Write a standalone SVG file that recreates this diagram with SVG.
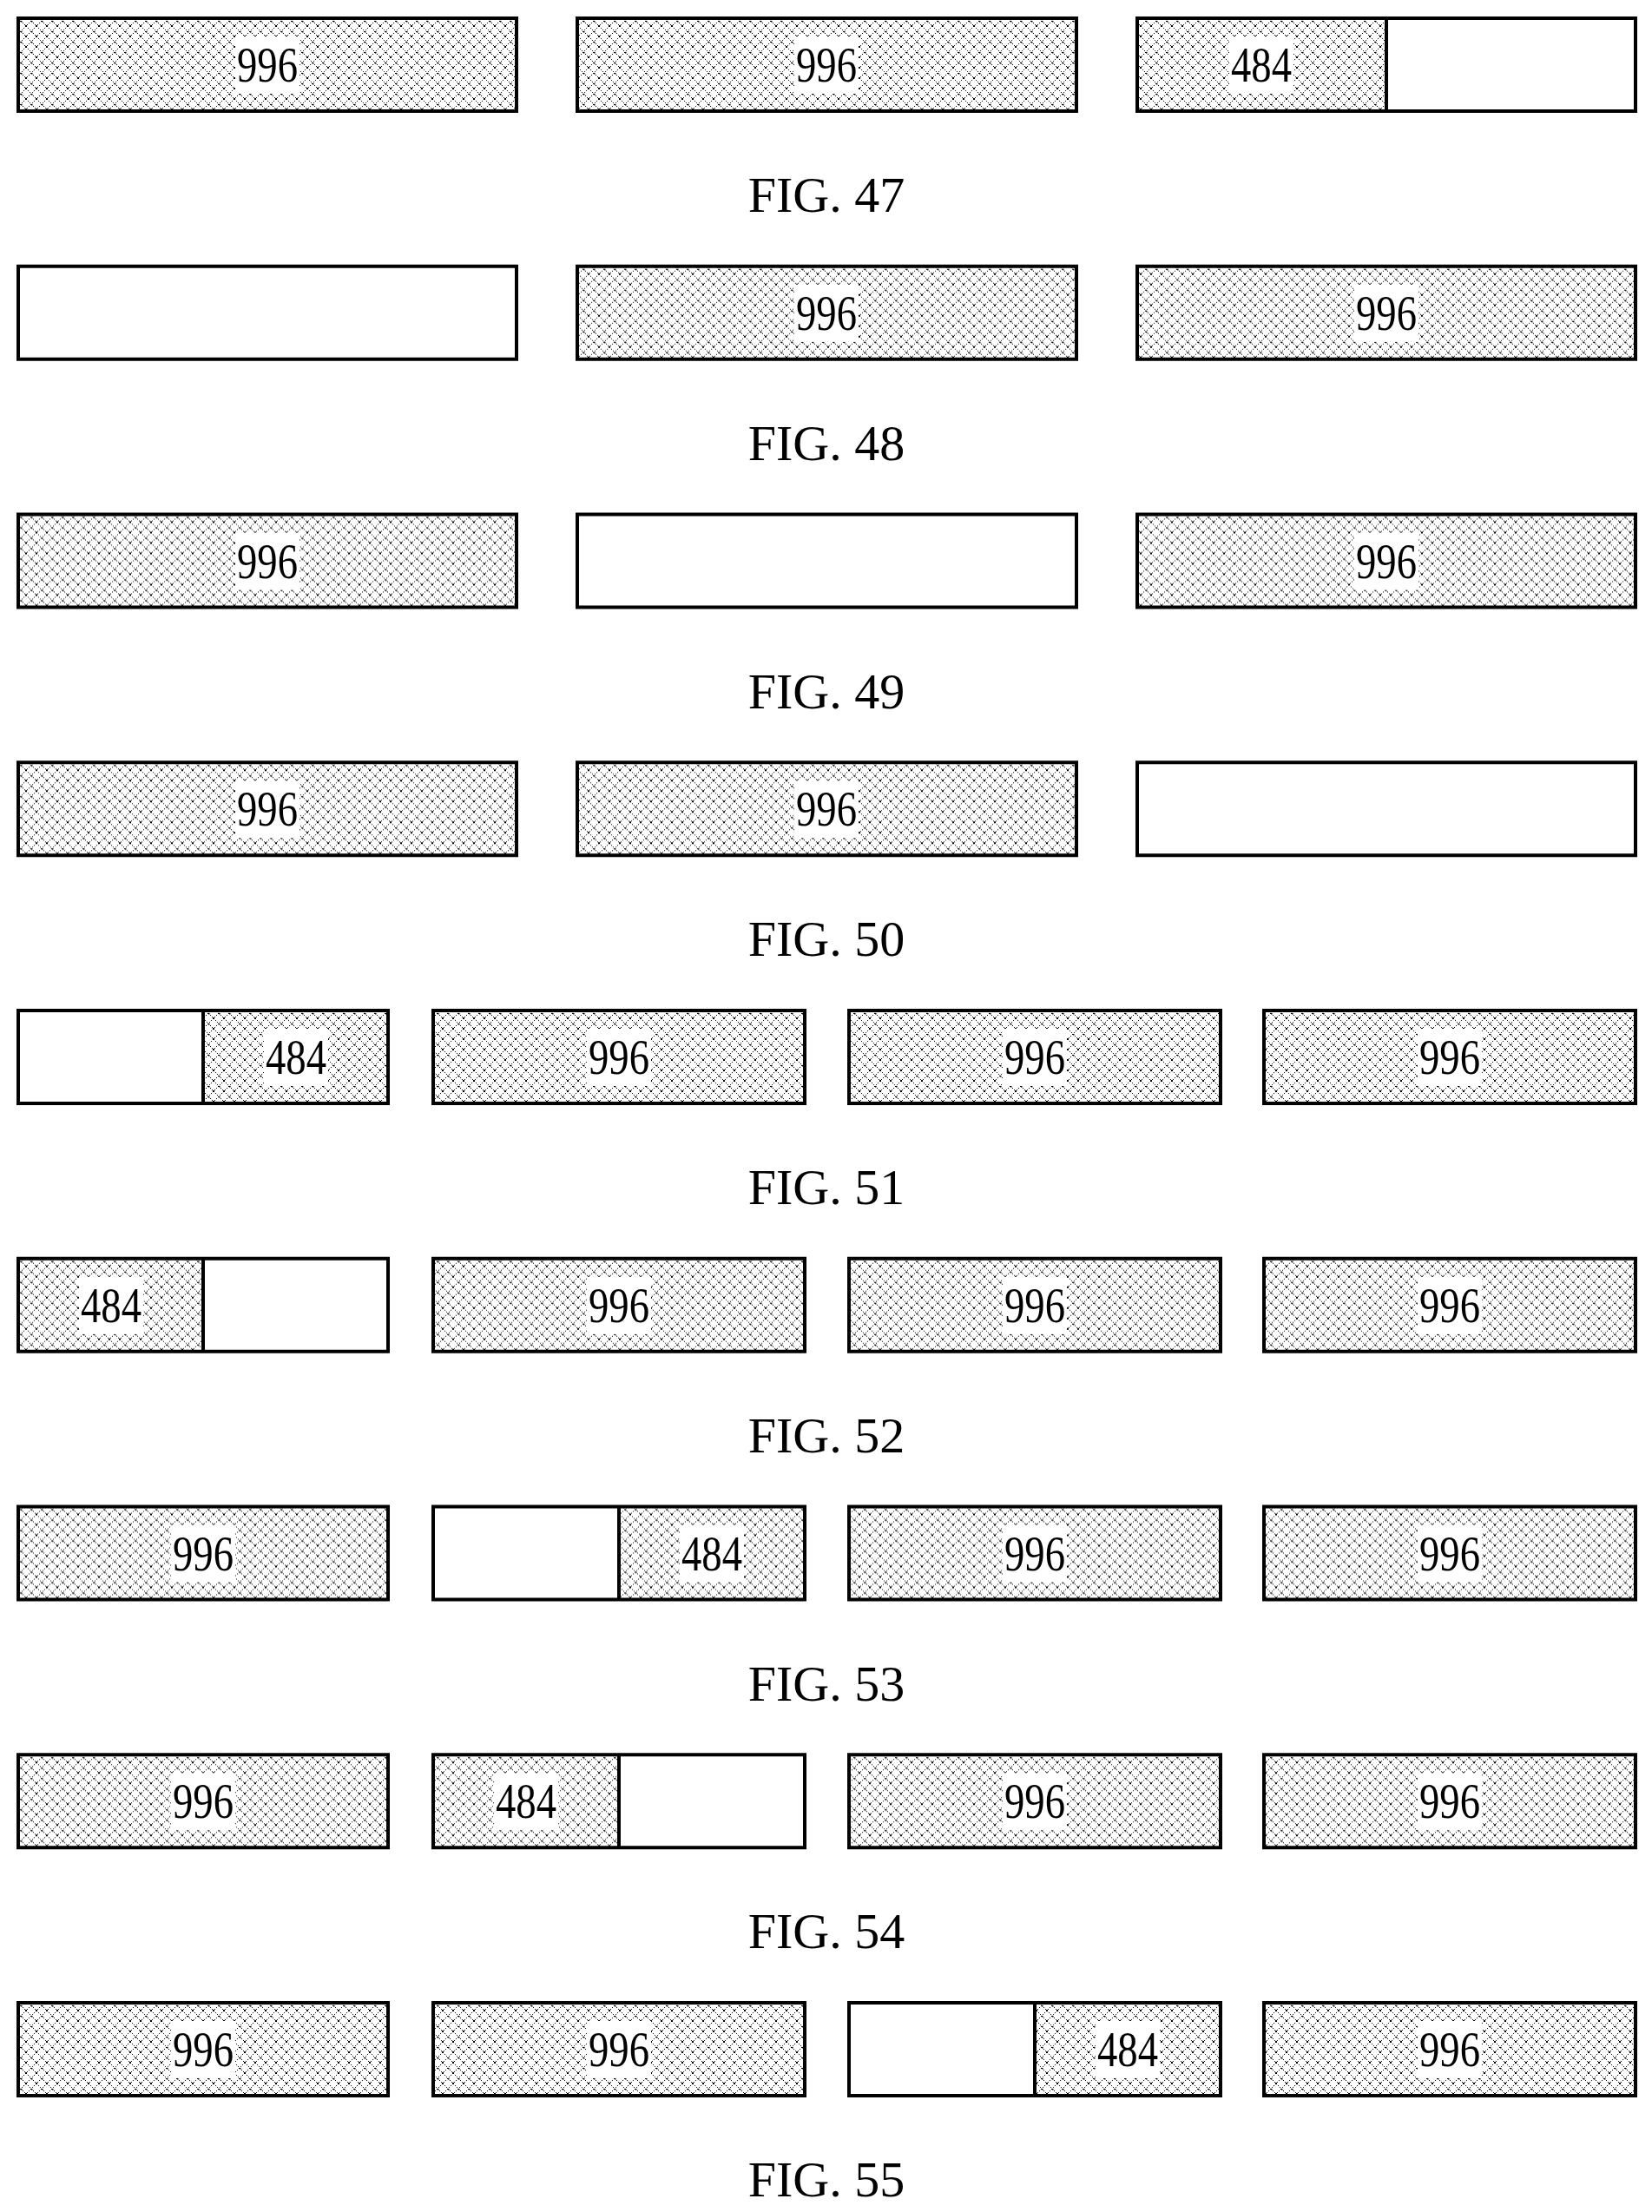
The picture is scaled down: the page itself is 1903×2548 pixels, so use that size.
<svg xmlns="http://www.w3.org/2000/svg" width="1903" height="2548" viewBox="0 0 1903 2548">
<style>
.b{stroke:#000;stroke-width:4;fill:none}
.h{fill:url(#hatch)}
.w{fill:#fff}
.t{font-family:"Liberation Serif",serif;font-size:56px;text-anchor:middle}
.f{font-family:"Liberation Serif",serif;font-size:58px;text-anchor:middle}
</style>
<defs>
<pattern id="hatch" width="12" height="12" patternUnits="userSpaceOnUse">
<rect width="12" height="12" fill="#fff"/>
<path d="M0 0L12 12M12 0L0 12" stroke="#000" stroke-width="1" stroke-dasharray="1.4 1.4"/>
<rect x="5" y="5" width="2" height="2" fill="#000"/>
<rect x="0" y="0" width="1.5" height="1.5" fill="#000"/>
</pattern>
<g id="L996"><rect class="w" x="-37" y="-33" width="74" height="66"/><text class="t" x="0" y="19" textLength="70" lengthAdjust="spacingAndGlyphs">996</text></g>
<g id="L484"><rect class="w" x="-37" y="-33" width="74" height="66"/><text class="t" x="0" y="19" textLength="70" lengthAdjust="spacingAndGlyphs">484</text></g>
</defs>
<rect width="1903" height="2548" fill="#fff"/>

<g id="fig47">
<g id="f47a"><rect class="h" x="21" y="21" width="574" height="107"/><rect class="b" x="21" y="21" width="574" height="107"/><use href="#L996" x="308" y="75"/></g>
<g id="f47b"><rect class="h" x="665" y="21" width="575" height="107"/><rect class="b" x="665" y="21" width="575" height="107"/><use href="#L996" x="952" y="75"/></g>
<g id="f47c"><rect class="h" x="1310" y="21" width="287" height="107"/><rect class="b" x="1310" y="21" width="574" height="107"/><line class="b" x1="1597" y1="21" x2="1597" y2="128"/><use href="#L484" x="1453" y="75"/></g>
<text class="f" x="952" y="244">FIG. 47</text>
</g>

<g id="fig48" transform="translate(0,285.75)">
<g id="f48a"><rect class="b" x="21" y="21" width="574" height="107"/></g>
<g id="f48b"><rect class="h" x="665" y="21" width="575" height="107"/><rect class="b" x="665" y="21" width="575" height="107"/><use href="#L996" x="952" y="75"/></g>
<g id="f48c"><rect class="h" x="1310" y="21" width="574" height="107"/><rect class="b" x="1310" y="21" width="574" height="107"/><use href="#L996" x="1597" y="75"/></g>
<text class="f" x="952" y="244">FIG. 48</text>
</g>

<g id="fig49" transform="translate(0,571.5)">
<g id="f49a"><rect class="h" x="21" y="21" width="574" height="107"/><rect class="b" x="21" y="21" width="574" height="107"/><use href="#L996" x="308" y="75"/></g>
<g id="f49b"><rect class="b" x="665" y="21" width="575" height="107"/></g>
<g id="f49c"><rect class="h" x="1310" y="21" width="574" height="107"/><rect class="b" x="1310" y="21" width="574" height="107"/><use href="#L996" x="1597" y="75"/></g>
<text class="f" x="952" y="244">FIG. 49</text>
</g>

<g id="fig50" transform="translate(0,857.25)">
<g id="f50a"><rect class="h" x="21" y="21" width="574" height="107"/><rect class="b" x="21" y="21" width="574" height="107"/><use href="#L996" x="308" y="75"/></g>
<g id="f50b"><rect class="h" x="665" y="21" width="575" height="107"/><rect class="b" x="665" y="21" width="575" height="107"/><use href="#L996" x="952" y="75"/></g>
<g id="f50c"><rect class="b" x="1310" y="21" width="574" height="107"/></g>
<text class="f" x="952" y="244">FIG. 50</text>
</g>

<g id="fig51" transform="translate(0,1143)">
<g id="f51a"><rect class="h" x="234" y="21" width="213" height="107"/><rect class="b" x="21" y="21" width="426" height="107"/><line class="b" x1="234" y1="21" x2="234" y2="128"/><use href="#L484" x="341" y="75"/></g>
<g id="f51b"><rect class="h" x="499" y="21" width="428" height="107"/><rect class="b" x="499" y="21" width="428" height="107"/><use href="#L996" x="713" y="75"/></g>
<g id="f51c"><rect class="h" x="978" y="21" width="428" height="107"/><rect class="b" x="978" y="21" width="428" height="107"/><use href="#L996" x="1192" y="75"/></g>
<g id="f51d"><rect class="h" x="1456" y="21" width="428" height="107"/><rect class="b" x="1456" y="21" width="428" height="107"/><use href="#L996" x="1670" y="75"/></g>
<text class="f" x="952" y="244">FIG. 51</text>
</g>

<g id="fig52" transform="translate(0,1428.75)">
<g id="f52a"><rect class="h" x="21" y="21" width="213" height="107"/><rect class="b" x="21" y="21" width="426" height="107"/><line class="b" x1="234" y1="21" x2="234" y2="128"/><use href="#L484" x="128" y="75"/></g>
<g id="f52b"><rect class="h" x="499" y="21" width="428" height="107"/><rect class="b" x="499" y="21" width="428" height="107"/><use href="#L996" x="713" y="75"/></g>
<g id="f52c"><rect class="h" x="978" y="21" width="428" height="107"/><rect class="b" x="978" y="21" width="428" height="107"/><use href="#L996" x="1192" y="75"/></g>
<g id="f52d"><rect class="h" x="1456" y="21" width="428" height="107"/><rect class="b" x="1456" y="21" width="428" height="107"/><use href="#L996" x="1670" y="75"/></g>
<text class="f" x="952" y="244">FIG. 52</text>
</g>

<g id="fig53" transform="translate(0,1714.5)">
<g id="f53a"><rect class="h" x="21" y="21" width="426" height="107"/><rect class="b" x="21" y="21" width="426" height="107"/><use href="#L996" x="234" y="75"/></g>
<g id="f53b"><rect class="h" x="713" y="21" width="214" height="107"/><rect class="b" x="499" y="21" width="428" height="107"/><line class="b" x1="713" y1="21" x2="713" y2="128"/><use href="#L484" x="820" y="75"/></g>
<g id="f53c"><rect class="h" x="978" y="21" width="428" height="107"/><rect class="b" x="978" y="21" width="428" height="107"/><use href="#L996" x="1192" y="75"/></g>
<g id="f53d"><rect class="h" x="1456" y="21" width="428" height="107"/><rect class="b" x="1456" y="21" width="428" height="107"/><use href="#L996" x="1670" y="75"/></g>
<text class="f" x="952" y="244">FIG. 53</text>
</g>

<g id="fig54" transform="translate(0,2000.25)">
<g id="f54a"><rect class="h" x="21" y="21" width="426" height="107"/><rect class="b" x="21" y="21" width="426" height="107"/><use href="#L996" x="234" y="75"/></g>
<g id="f54b"><rect class="h" x="499" y="21" width="214" height="107"/><rect class="b" x="499" y="21" width="428" height="107"/><line class="b" x1="713" y1="21" x2="713" y2="128"/><use href="#L484" x="606" y="75"/></g>
<g id="f54c"><rect class="h" x="978" y="21" width="428" height="107"/><rect class="b" x="978" y="21" width="428" height="107"/><use href="#L996" x="1192" y="75"/></g>
<g id="f54d"><rect class="h" x="1456" y="21" width="428" height="107"/><rect class="b" x="1456" y="21" width="428" height="107"/><use href="#L996" x="1670" y="75"/></g>
<text class="f" x="952" y="244">FIG. 54</text>
</g>

<g id="fig55" transform="translate(0,2286)">
<g id="f55a"><rect class="h" x="21" y="21" width="426" height="107"/><rect class="b" x="21" y="21" width="426" height="107"/><use href="#L996" x="234" y="75"/></g>
<g id="f55b"><rect class="h" x="499" y="21" width="428" height="107"/><rect class="b" x="499" y="21" width="428" height="107"/><use href="#L996" x="713" y="75"/></g>
<g id="f55c"><rect class="h" x="1192" y="21" width="214" height="107"/><rect class="b" x="978" y="21" width="428" height="107"/><line class="b" x1="1192" y1="21" x2="1192" y2="128"/><use href="#L484" x="1299" y="75"/></g>
<g id="f55d"><rect class="h" x="1456" y="21" width="428" height="107"/><rect class="b" x="1456" y="21" width="428" height="107"/><use href="#L996" x="1670" y="75"/></g>
<text class="f" x="952" y="244">FIG. 55</text>
</g>
<g id="connectors"/>
</svg>
